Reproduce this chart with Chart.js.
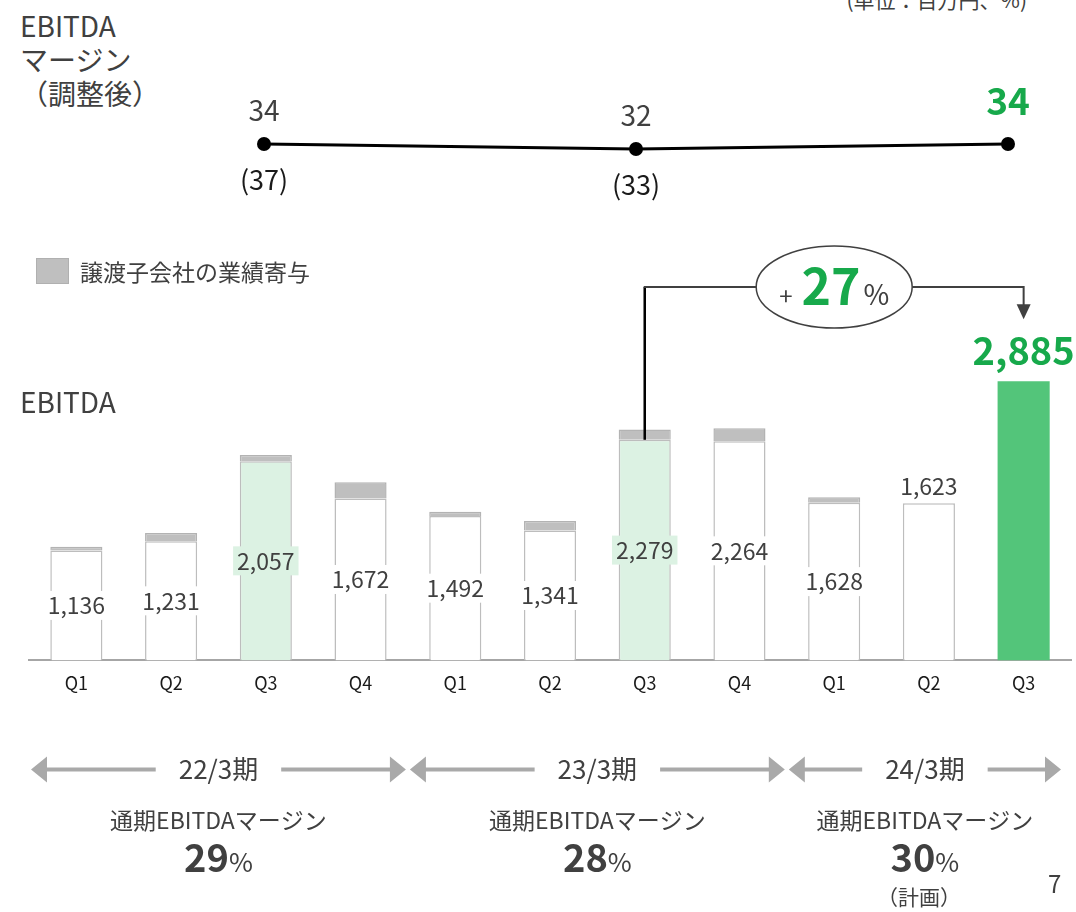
<!DOCTYPE html>
<html lang="ja">
<head>
<meta charset="utf-8">
<script src="https://cdn.jsdelivr.net/npm/chart.js@4.4.0/dist/chart.umd.min.js"></script>
<style>
  html, body { margin: 0; padding: 0; background: #fff; }
  body {
    width: 1076px; height: 912px; position: relative; overflow: hidden;
    font-family: "Noto Sans CJK JP", "Noto Sans", sans-serif; color: #404040;
  }
  .txt { position: absolute; white-space: nowrap; }
  #marginWrap { position: absolute; left: 0; top: 60px; width: 1076px; height: 180px; }
  #ebitdaWrap { position: absolute; left: 0; top: 230px; width: 1076px; height: 682px; }
</style>
</head>
<body>

<div class="txt" style="left:20px; top:8px; font-size:28px; line-height:34px;">EBITDA<br>マージン<br>（調整後）</div>
<div class="txt" style="right:49px; top:-15px; font-size:21px; line-height:28px;">(単位：百万円、%)</div>

<div id="marginWrap"><canvas id="marginChart" width="1076" height="180"></canvas></div>
<div id="ebitdaWrap"><canvas id="ebitdaChart" width="1076" height="682"></canvas></div>

<div class="txt" style="left:36px; top:258px; width:31px; height:24px; background:#bfbfbf; border:1px solid #b0b0b0;"></div>
<div class="txt" style="left:80px; top:256px; font-size:23px; line-height:30px;">譲渡子会社の業績寄与</div>
<div class="txt" style="left:20px; top:384px; font-size:28px; line-height:34px;">EBITDA</div>
<div class="txt" style="left:1048px; top:868px; font-size:24px; line-height:30px;">7</div>

<script>
// EBITDA margin (adjusted), Q3 of each fiscal year; reported figure in brackets
const marginLabels = ['22/3期 Q3', '23/3期 Q3', '24/3期 Q3'];
const marginAdjusted = [34, 32, 34];
const marginReported = [37, 33, null];

// quarterly EBITDA (million yen) and contribution of the divested subsidiaries
const quarters = ['Q1', 'Q2', 'Q3', 'Q4', 'Q1', 'Q2', 'Q3', 'Q4', 'Q1', 'Q2', 'Q3'];
const ebitda = [1136, 1231, 2057, 1672, 1492, 1341, 2279, 2264, 1628, 1623, 2885];
const divestedContribution = [38, 84, 64, 168, 44, 100, 106, 134, 58, null, null];

// fiscal periods under the axis
const periods = ['22/3期', '23/3期', '24/3期'];
const periodQuarterCount = [4, 4, 3];
const annualMargin = [29, 28, 30];
const annualIsPlan = [false, false, true];

const FONT = '"Noto Sans CJK JP", "Noto Sans", sans-serif';
const TEXT = '#404040';
const GREEN = '#17a94b';
Chart.defaults.font.family = FONT;

const lastIdx = ebitda.length - 1;
const barFill = ebitda.map((v, i) => i === lastIdx ? '#53c57a' : (quarters[i] === 'Q3' ? '#dcf2e3' : '#ffffff'));
const barBorder = ebitda.map((v, i) => i === lastIdx ? 'rgba(0,0,0,0)' : '#bdbdbd');
const barBorderWidth = ebitda.map((v, i) => i === lastIdx ? 0 : 1.5);

function fmt(v) { return v.toLocaleString('en-US'); }

// value above each point, reported margin in brackets below
const marginLabelPlugin = {
  id: 'marginLabels',
  afterDatasetsDraw(chart) {
    const ctx = chart.ctx;
    const pts = chart.getDatasetMeta(0).data;
    ctx.save();
    ctx.textAlign = 'center';
    ctx.textBaseline = 'alphabetic';
    pts.forEach((p, i) => {
      const latest = i === pts.length - 1;
      ctx.fillStyle = latest ? GREEN : TEXT;
      ctx.font = (latest ? 'bold 37px ' : '28px ') + FONT;
      ctx.fillText(String(marginAdjusted[i]), p.x, p.y - (latest ? 29 : 23));
      if (marginReported[i] != null) {
        ctx.fillStyle = '#1a1a1a';
        ctx.font = '27px ' + FONT;
        ctx.fillText('(' + marginReported[i] + ')', p.x, p.y + 46);
      }
    });
    ctx.restore();
  }
};

new Chart(document.getElementById('marginChart'), {
  type: 'line',
  data: {
    labels: marginLabels,
    datasets: [{
      data: marginAdjusted,
      borderColor: '#000',
      borderWidth: 3,
      pointRadius: 7,
      pointBackgroundColor: '#000',
      pointBorderWidth: 0,
      tension: 0,
      clip: false
    }]
  },
  options: {
    responsive: false,
    animation: false,
    layout: { padding: { left: 264, right: 68, top: 69, bottom: 11 } },
    scales: {
      x: { display: false, offset: false },
      y: { display: false, min: 0, max: 40 }
    },
    plugins: { legend: { display: false }, tooltip: { enabled: false } }
  },
  plugins: [marginLabelPlugin]
});

// EBITDA values on the bars
const barLabelPlugin = {
  id: 'barLabels',
  afterDatasetsDraw(chart) {
    const ctx = chart.ctx;
    const bars = chart.getDatasetMeta(0).data;
    ctx.save();
    ctx.textAlign = 'center';
    ctx.textBaseline = 'middle';
    bars.forEach((bar, i) => {
      const text = fmt(ebitda[i]);
      if (i === lastIdx) {
        ctx.font = 'bold 38px ' + FONT;
        ctx.fillStyle = GREEN;
        ctx.fillText(text, bar.x, bar.y - 31);
        return;
      }
      ctx.font = '23px ' + FONT;
      if (divestedContribution[i] == null) {
        ctx.fillStyle = TEXT;
        ctx.fillText(text, bar.x, bar.y - 17);
        return;
      }
      const cy = (bar.y + bar.base) / 2;
      const w = ctx.measureText(text).width;
      ctx.fillStyle = barFill[i];
      ctx.fillRect(bar.x - w / 2 - 4, cy - 14.5, w + 8, 29);
      ctx.fillStyle = TEXT;
      ctx.fillText(text, bar.x, cy);
    });
    ctx.restore();
  }
};

// year-on-year growth callout between the two Q3 bars
const growthPlugin = {
  id: 'growth',
  afterDraw(chart) {
    const ctx = chart.ctx;
    const bars = chart.getDatasetMeta(0).data;
    const from = bars[lastIdx - 4];
    const to = bars[lastIdx];
    const growth = Math.round((ebitda[lastIdx] / ebitda[lastIdx - 4] - 1) * 100);
    const yLine = chart.chartArea.top - 83;
    const cx = (from.x + to.x) / 2;
    const rx = 78, ry = 41;
    const tipY = to.y - 62;

    ctx.save();
    ctx.strokeStyle = '#000';
    ctx.lineWidth = 2.5;
    ctx.beginPath();
    ctx.moveTo(from.x, from.y);
    ctx.lineTo(from.x, yLine);
    ctx.stroke();

    ctx.strokeStyle = '#404040';
    ctx.lineWidth = 2;
    ctx.beginPath();
    ctx.moveTo(from.x - 1, yLine);
    ctx.lineTo(cx - rx, yLine);
    ctx.moveTo(cx + rx, yLine);
    ctx.lineTo(to.x, yLine);
    ctx.lineTo(to.x, tipY - 14);
    ctx.stroke();

    ctx.fillStyle = '#404040';
    ctx.beginPath();
    ctx.moveTo(to.x - 7, tipY - 15);
    ctx.lineTo(to.x + 7, tipY - 15);
    ctx.lineTo(to.x, tipY);
    ctx.closePath();
    ctx.fill();

    ctx.beginPath();
    ctx.ellipse(cx, yLine, rx, ry, 0, 0, Math.PI * 2);
    ctx.fillStyle = '#fff';
    ctx.fill();
    ctx.lineWidth = 1.5;
    ctx.strokeStyle = '#404040';
    ctx.stroke();

    const parts = [
      { t: '+', f: '24px ' + FONT, c: TEXT, gap: 9 },
      { t: String(growth), f: 'bold 50px ' + FONT, c: GREEN, gap: 3 },
      { t: '%', f: '28px ' + FONT, c: TEXT, gap: 0 }
    ];
    let total = 0;
    parts.forEach(p => { ctx.font = p.f; p.w = ctx.measureText(p.t).width; total += p.w + p.gap; });
    let x = cx - total / 2;
    ctx.textAlign = 'left';
    ctx.textBaseline = 'alphabetic';
    parts.forEach(p => {
      ctx.font = p.f;
      ctx.fillStyle = p.c;
      ctx.fillText(p.t, x, yLine + 18);
      x += p.w + p.gap;
    });
    ctx.restore();
  }
};

// fiscal period arrows and full-year margins under the axis
const periodPlugin = {
  id: 'periods',
  afterDraw(chart) {
    const ctx = chart.ctx;
    const xs = chart.scales.x;
    const catW = xs.width / quarters.length;
    const bottom = chart.chartArea.bottom;
    const ay = bottom + 109;
    let start = 0;
    ctx.save();
    periods.forEach((name, g) => {
      const end = start + periodQuarterCount[g] - 1;
      const left = xs.getPixelForValue(start) - catW / 2 + 2;
      const right = Math.min(xs.getPixelForValue(end) + catW / 2, xs.right - 8) - 2;
      const mid = (left + right) / 2;
      start = end + 1;

      ctx.font = '26px ' + FONT;
      const tw = ctx.measureText(name).width;
      ctx.strokeStyle = '#a9a9a9';
      ctx.fillStyle = '#a9a9a9';
      ctx.lineWidth = 4;
      ctx.beginPath();
      ctx.moveTo(left + 14, ay);
      ctx.lineTo(mid - tw / 2 - 23, ay);
      ctx.moveTo(mid + tw / 2 + 23, ay);
      ctx.lineTo(right - 14, ay);
      ctx.stroke();
      ctx.beginPath();
      ctx.moveTo(left, ay);
      ctx.lineTo(left + 16, ay - 13);
      ctx.lineTo(left + 16, ay + 13);
      ctx.closePath();
      ctx.moveTo(right, ay);
      ctx.lineTo(right - 16, ay - 13);
      ctx.lineTo(right - 16, ay + 13);
      ctx.closePath();
      ctx.fill();

      ctx.fillStyle = TEXT;
      ctx.textAlign = 'center';
      ctx.textBaseline = 'middle';
      ctx.fillText(name, mid, ay);

      ctx.font = '23px ' + FONT;
      ctx.fillText('通期EBITDAマージン', mid, bottom + 160);

      const num = String(annualMargin[g]);
      ctx.font = 'bold 38px ' + FONT;
      const nw = ctx.measureText(num).width;
      ctx.font = '26px ' + FONT;
      const pw = ctx.measureText('%').width;
      const nx = mid - (nw + pw) / 2;
      ctx.textAlign = 'left';
      ctx.textBaseline = 'alphabetic';
      ctx.font = 'bold 38px ' + FONT;
      ctx.fillText(num, nx, bottom + 212);
      ctx.font = '26px ' + FONT;
      ctx.fillText('%', nx + nw, bottom + 212);

      if (annualIsPlan[g]) {
        ctx.textAlign = 'center';
        ctx.textBaseline = 'middle';
        ctx.font = '21px ' + FONT;
        ctx.fillText('（計画）', mid - 6, bottom + 237);
      }
    });
    ctx.restore();
  }
};

new Chart(document.getElementById('ebitdaChart'), {
  type: 'bar',
  data: {
    labels: quarters,
    datasets: [
      {
        label: 'EBITDA',
        data: ebitda,
        backgroundColor: barFill,
        borderColor: barBorder,
        borderWidth: barBorderWidth,
        borderSkipped: 'bottom'
      },
      {
        label: '譲渡子会社の業績寄与',
        data: divestedContribution,
        backgroundColor: '#bfbfbf',
        borderColor: '#b3b3b3',
        borderWidth: 1.5,
        borderSkipped: 'bottom'
      }
    ]
  },
  options: {
    responsive: false,
    animation: false,
    datasets: { bar: { categoryPercentage: 1, barPercentage: 0.55 } },
    layout: { padding: { left: 29, right: 5, top: 140, bottom: 206 } },
    scales: {
      x: {
        stacked: true,
        grid: { display: false, drawTicks: false },
        border: { color: '#a6a6a6', width: 2 },
        ticks: { color: '#1a1a1a', padding: 12, font: { size: 18 } }
      },
      y: { stacked: true, display: false, min: 0, max: 3000 }
    },
    plugins: { legend: { display: false }, tooltip: { enabled: false } }
  },
  plugins: [barLabelPlugin, growthPlugin, periodPlugin]
});
</script>
</body>
</html>
